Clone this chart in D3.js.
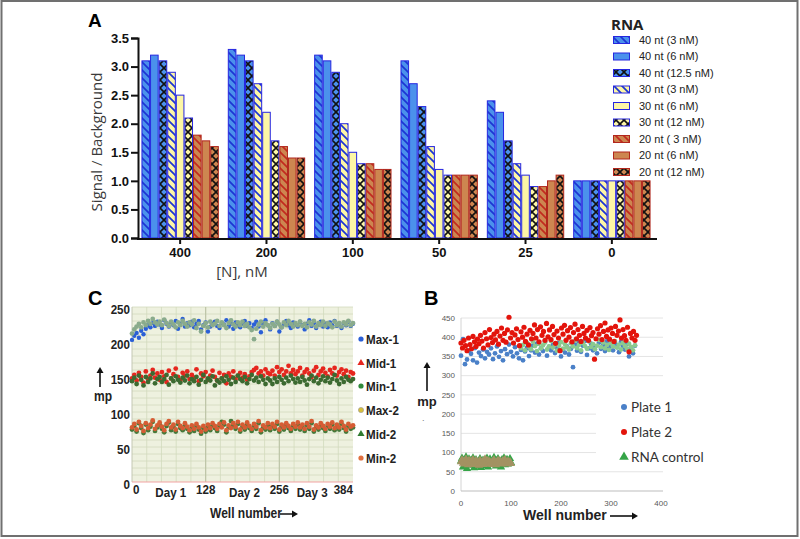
<!DOCTYPE html>
<html><head><meta charset="utf-8">
<script src="https://cdn.jsdelivr.net/npm/d3@7"></script>
<style>body{margin:0;background:#fff}svg{display:block}</style>
</head><body>
<svg id="c" width="800" height="539"></svg>
<script>
// ---------------- Panel A data ----------------
const categories = ["400","200","100","50","25","0"];
const seriesNames = ["40 nt (3 nM)","40 nt (6 nM)","40 nt (12.5 nM)","30 nt (3 nM)","30 nt (6 nM)","30 nt (12 nM)","20 nt ( 3 nM)","20 nt (6 nM)","20 nt (12 nM)"];
const v40nt3  = [3.1,3.3,3.2,3.1,2.4,1.0];
const v40nt6  = [3.2,3.2,3.1,2.7,2.2,1.0];
const v40nt12 = [3.1,3.1,2.9,2.3,1.7,1.0];
const v30nt3  = [2.9,2.7,2.0,1.6,1.3,1.0];
const v30nt6  = [2.5,2.2,1.5,1.2,1.1,1.0];
const v30nt12 = [2.1,1.7,1.3,1.1,0.9,1.0];
const v20nt3  = [1.8,1.6,1.3,1.1,0.9,1.0];
const v20nt6  = [1.7,1.4,1.2,1.1,1.0,1.0];
const v20nt12 = [1.6,1.4,1.2,1.1,1.1,1.0];
const seriesValues = [v40nt3,v40nt6,v40nt12,v30nt3,v30nt6,v30nt12,v20nt3,v20nt6,v20nt12];
const yTicksA = [0,0.5,1,1.5,2,2.5,3,3.5];

// ---------------- Panel C data (wells 0..384 step 4) ----------------
const cSeriesNames = ["Max-1","Mid-1","Min-1","Max-2","Mid-2","Min-2"];
const cXTicks = [0,128,256,384];
const cDayLabels = ["Day 1","Day 2","Day 3"];
const cDayWells = [64,192,320];
const cYTicks = [0,50,100,150,200,250];
const max1 = [203,209,213,206,216,211,219,224,221,227,223,229,
225,220,231,226,222,228,224,230,219,226,233,222,
227,224,229,221,226,230,218,224,228,215,222,226,
229,223,220,227,225,231,222,226,219,228,224,221,
226,230,223,227,220,225,229,222,214,226,231,224,
218,227,223,229,215,221,226,230,224,220,228,225,
222,229,224,218,226,231,223,227,220,225,229,222,
226,221,228,224,230,223,226,220,227,224,229,223,226];
const max2 = [212,218,222,226,221,228,224,230,226,233,228,225,
229,224,232,227,223,229,225,221,228,224,230,226,
222,228,225,231,220,226,215,223,227,221,229,224,
226,230,223,228,224,220,227,231,225,222,228,224,
229,223,226,221,217,204,219,225,229,222,227,224,
220,226,223,229,225,221,228,224,230,226,222,227,
224,229,223,226,221,228,225,230,222,227,224,229,
223,227,225,221,229,224,227,222,228,225,230,224,227];
const mid1 = [148,153,145,156,150,142,158,147,152,160,149,155,
146,157,151,143,159,148,154,162,150,145,156,152,
158,147,153,149,161,144,155,151,157,146,152,159,
150,145,156,148,153,141,155,150,158,147,152,156,
149,154,146,151,157,160,163,155,158,152,161,156,
154,159,152,164,157,161,153,158,166,155,160,154,
158,163,152,157,161,155,150,159,164,153,158,162,
156,151,160,155,163,152,157,161,154,159,150,157,155];
const min1 = [144,149,140,152,146,138,150,143,148,155,141,147,
150,143,147,153,139,148,144,151,146,142,149,145,
152,141,147,144,150,139,146,153,143,148,145,151,
138,145,142,148,144,151,146,140,149,143,152,147,
144,150,141,147,153,145,149,143,151,146,140,148,
145,140,148,143,150,146,141,149,144,152,147,142,
148,143,150,145,139,147,152,144,149,141,146,151,
144,149,142,147,153,145,140,148,143,150,146,144,147];
const mid2 = [75,80,72,84,77,70,82,74,79,86,73,78,
82,76,71,80,85,74,79,72,83,77,74,81,
76,71,78,73,80,75,69,77,72,79,74,81,
77,73,80,86,82,71,78,87,81,76,83,72,
79,75,82,77,73,80,76,84,71,78,75,81,
74,80,76,83,72,79,75,81,77,73,80,76,
82,75,79,73,81,76,84,72,78,75,81,77,
73,80,76,82,74,79,75,83,77,72,80,76,78];
const min2 = [78,83,75,86,80,73,84,77,82,88,76,81,
85,79,74,83,87,78,82,75,86,80,77,84,
79,74,81,76,83,78,72,80,75,82,77,84,
80,76,83,78,85,74,81,77,84,79,86,75,
82,78,85,80,76,83,79,87,74,81,78,84,
77,83,79,86,75,82,78,84,80,76,83,79,
85,78,82,76,84,79,87,75,81,78,84,80,
76,83,79,85,77,82,78,86,80,75,83,79,81];

// ---------------- Panel B data ----------------
const bLegend = ["Plate 1","Plate 2","RNA control"];
const bXTicks = [0,100,200,300,400];
const bYTicks = [0,50,100,150,200,250,300,350,400,450];
// Plate 2: wells 0..351 step 3
const plate2 = [385,372,392,378,365,398,381,370,402,388,376,395,
383,405,390,372,412,396,380,420,399,386,408,393,
415,382,403,424,392,410,387,419,452,398,412,385,
406,422,394,378,414,400,426,389,408,380,418,396,
410,432,398,420,388,427,405,415,392,436,401,419,
394,428,407,384,416,398,365,424,408,431,392,417,
400,425,388,412,434,396,420,405,389,428,410,398,
418,392,425,404,412,343,396,422,408,430,394,415,
437,402,419,395,424,410,389,428,405,416,445,398,
420,404,392,426,362,410,398,415,392,405];
// Plate 1: wells 0..348 step 4
const plate1 = [352,395,330,342,366,357,340,372,334,360,351,368,
345,362,355,371,343,358,376,349,364,340,369,356,
381,362,350,374,358,345,367,340,363,372,351,366,
378,360,383,355,371,364,388,352,375,366,380,359,
372,385,350,368,360,376,355,370,322,381,365,387,
362,378,390,354,371,383,366,375,358,386,370,379,
364,390,372,380,366,385,374,361,388,376,368,382,
350,372,358,378];
// light green points within the plate 1 band: wells 120..348 step 4
const plate1Green = [372,380,366,385,375,369,388,377,364,383,371,379,
386,368,376,390,373,381,365,378,387,370,382,374,
368,384,376,391,372,380,366,385,377,370,389,375,
382,369,378,393,374,386,371,380,367,384,376,390,
373,381,368,385,377,370,383,375,366,379];
// RNA control: wells 0..100 step 2
const rnaGreen = [78,85,62,80,74,88,58,76,83,67,79,72,86,60,75,81,70,64,77,84,61,73,80,66,78,71,85,62,76,83,69,74,80,87,72,65,79,84,70,76,62,81,73,86,68,75,82,70,77,84,74];
const rnaOlive = [76,81,72,78,70,83,75,68,80,73,77,70,82,74,69,79,72,76,67,80,74,71,78,69,83,76,80,73,78,71,75,69,77,81,72,68,76,80,73,78,70,75,79,72,82,74,70,78,73,76,71];

// ================= drawing =================
const svg = d3.select("#c");
const defs = svg.append("defs");
const BOLD = "'Liberation Sans', Arial, sans-serif";
const NX = 0.86; // horizontal condensing for narrow bold text in panel C

// outer frame
svg.append("rect").attr("x",1.5).attr("y",1).attr("width",796).attr("height",535)
  .attr("fill","none").attr("stroke","#707070").attr("stroke-width",2);

// patterns
const BLUE="#4b91ec", BLUE_E="#2626e0", BLUE_S="#1c35d4";
const YEL="#fdf6a6", ORG="#cd8650", RED_E="#b2261c", RED_S="#c22a1e";
function hatch(id,bg,col){
  const p=defs.append("pattern").attr("id",id).attr("patternUnits","userSpaceOnUse").attr("width",8).attr("height",8);
  p.append("rect").attr("width",8).attr("height",8).attr("fill",bg);
  p.append("path").attr("d","M-2,-2L10,10M-2,6L2,10M6,-2L10,2").attr("stroke",col).attr("stroke-width",1.7);
}
function cross(id,bg){
  const p=defs.append("pattern").attr("id",id).attr("patternUnits","userSpaceOnUse").attr("width",8).attr("height",8);
  p.append("rect").attr("width",8).attr("height",8).attr("fill",bg);
  p.append("path").attr("d","M-1,-1L9,9M9,-1L-1,9").attr("stroke","#111").attr("stroke-width",1.6);
}
hatch("p0",BLUE,BLUE_S); cross("p2",BLUE);
hatch("p3",YEL,BLUE_S); cross("p5",YEL);
hatch("p6",ORG,RED_S); cross("p8",ORG);
const seriesFill = ["url(#p0)",BLUE,"url(#p2)","url(#p3)",YEL,"url(#p5)","url(#p6)",ORG,"url(#p8)"];
const seriesStroke = [BLUE_E,BLUE_E,BLUE_E,BLUE_E,BLUE_E,BLUE_E,RED_E,RED_E,RED_E];

// ---------- Panel A ----------
const x0 = d3.scaleBand().domain(categories).range([138,654]).paddingInner(0.104).paddingOuter(0.04);
const x1 = d3.scaleBand().domain(seriesNames).range([0,x0.bandwidth()]);
const yA = d3.scaleLinear().domain([0,3.5]).range([238,38]);

const gA = svg.append("g");
seriesNames.forEach((s,i)=>{
  gA.selectAll(null).data(seriesValues[i].map((v,j)=>({c:categories[j],v}))).enter().append("rect")
    .attr("x",d=>x0(d.c)+x1(s)+0.5).attr("y",d=>yA(d.v))
    .attr("width",x1.bandwidth()-1).attr("height",d=>yA(0)-yA(d.v))
    .attr("fill",seriesFill[i]).attr("stroke",seriesStroke[i]).attr("stroke-width",1);
});
const yAx = svg.append("g").attr("transform","translate(138,0)")
  .call(d3.axisLeft(yA).tickValues(yTicksA).tickFormat(d3.format(".1f")).tickSize(7).tickPadding(2));
yAx.selectAll("path,line").attr("stroke","#111").attr("stroke-width",2);
yAx.selectAll("text").attr("font-family",BOLD).attr("font-weight","bold").attr("font-size",13).attr("fill","#111");
const xAx = svg.append("g").attr("transform","translate(0,239)")
  .call(d3.axisBottom(x0).tickSize(5).tickSizeOuter(0).tickPadding(4));
xAx.select(".domain").remove();
xAx.selectAll("line").attr("stroke","#111").attr("stroke-width",2);
xAx.selectAll("text").attr("font-family",BOLD).attr("font-weight","bold").attr("font-size",13).attr("fill","#111");
svg.append("line").attr("x1",137).attr("x2",657).attr("y1",239).attr("y2",239).attr("stroke","#111").attr("stroke-width",2);

svg.append("text").attr("x",88).attr("y",27).text("A")
  .attr("font-family",BOLD).attr("font-weight","bold").attr("font-size",19);
svg.append("text").attr("transform","translate(102,142) rotate(-90)").attr("text-anchor","middle")
  .attr("font-family","'Open Sans', sans-serif").attr("font-size",15).attr("fill","#3a3a3a").text("Signal / Background");
svg.append("text").attr("x",242).attr("y",277).attr("text-anchor","middle")
  .attr("font-family","'Open Sans', sans-serif").attr("font-size",15).attr("fill","#3a3a3a").text("[N], nM");

// legend A
svg.append("text").attr("x",611).attr("y",30).text("RNA")
  .attr("font-family","'Open Sans', sans-serif").attr("font-weight","bold").attr("font-size",15).attr("fill","#222");
const legA = svg.append("g");
seriesNames.forEach((s,i)=>{
  const yy = 40 + i*16.5;
  legA.append("rect").attr("x",613.5).attr("y",yy-3.5).attr("width",16).attr("height",7)
    .attr("fill",seriesFill[i]).attr("stroke",seriesStroke[i]).attr("stroke-width",1);
  legA.append("text").attr("x",639).attr("y",yy).attr("dy","0.35em").text(s)
    .attr("font-family",BOLD).attr("font-size",11).attr("fill","#222");
});

// ---------- Panel C ----------
const xC = d3.scaleLinear().domain([0,384]).range([132,353]);
const yC = d3.scaleLinear().domain([0,250]).range([482,307]);
const gC = svg.append("g");
gC.append("rect").attr("x",xC(0)).attr("y",yC(250)).attr("width",xC(384)-xC(0)).attr("height",yC(0)-yC(250)).attr("fill","#eef1df");
gC.selectAll(null).data(d3.range(10,251,10)).enter().append("line")
  .attr("x1",xC(0)).attr("x2",xC(384)).attr("y1",d=>yC(d)).attr("y2",d=>yC(d)).attr("stroke","#d2dabd").attr("stroke-width",0.8);
gC.selectAll(null).data(d3.range(1,15).map(k=>k*25.6)).enter().append("line")
  .attr("y1",yC(0)).attr("y2",yC(250)).attr("x1",d=>xC(d)).attr("x2",d=>xC(d))
  .attr("stroke",d=>(Math.abs(d-128)<1||Math.abs(d-256)<1)?"#bcc4a6":"#d2dabd").attr("stroke-width",d=>(Math.abs(d-128)<1||Math.abs(d-256)<1)?1.2:0.8);
gC.append("line").attr("x1",xC(0)).attr("x2",xC(0)).attr("y1",yC(0)).attr("y2",yC(250)).attr("stroke","#c4c8b4");
gC.append("line").attr("x1",xC(0)).attr("x2",xC(384)).attr("y1",yC(0)).attr("y2",yC(0)).attr("stroke","#f2a3a3").attr("stroke-width",1.2);

const wellsC = d3.range(0,385,4);
const cColors = {max1:"#2a5fd6", max2:"#8aab8c", mid1:"#e6261e", min1:"#3c6a31", mid2:"#46793a", min2:"#d65c34"};
function dotsC(arr,col,r){
  gC.selectAll(null).data(arr).enter().append("circle")
    .attr("cx",(d,i)=>xC(wellsC[i])).attr("cy",d=>yC(d)).attr("r",r).attr("fill",col);
}
dotsC(max1,cColors.max1,2.2); dotsC(max2,cColors.max2,2.4);
dotsC(mid1,cColors.mid1,2.4); dotsC(min1,cColors.min1,2.4);
dotsC(mid2,cColors.mid2,2.4); dotsC(min2,cColors.min2,2.4);

function narrow(sel,size){
  return sel.attr("font-family",BOLD).attr("font-weight","bold").attr("font-size",size).attr("fill","#222");
}
narrow(gC.selectAll(null).data(cYTicks).enter().append("text")
  .attr("transform",d=>`translate(130,${yC(d)+2}) scale(${NX},1)`).attr("dy","0.35em").attr("text-anchor","end").text(d=>d),13.5);
narrow(gC.selectAll(null).data(cXTicks).enter().append("text")
  .attr("transform",d=>`translate(${xC(d)+(d===0?1:0)},494) scale(${NX},1)`)
  .attr("text-anchor",(d,i)=>i===0?"start":(i===3?"end":"middle")).text(d=>d),13.5);
narrow(gC.selectAll(null).data(cDayLabels).enter().append("text")
  .attr("transform",(d,i)=>`translate(${xC(cDayWells[i])+(i===2?-4:2)},497) scale(${NX},1)`).attr("text-anchor","middle").text(d=>d),13.5);
svg.append("text").attr("x",88).attr("y",305).text("C")
  .attr("font-family",BOLD).attr("font-weight","bold").attr("font-size",20);
narrow(svg.append("text").attr("transform",`translate(210,518) scale(${NX},1)`).text("Well number"),14);
function arrowH(x1,x2,y,w){
  svg.append("line").attr("x1",x1).attr("x2",x2-3).attr("y1",y).attr("y2",y).attr("stroke","#111").attr("stroke-width",w);
  svg.append("path").attr("d",`M${x2},${y}L${x2-6},${y-3.5}L${x2-6},${y+3.5}Z`).attr("fill","#111");
}
function arrowV(x,y1,y2,w){
  svg.append("line").attr("x1",x).attr("x2",x).attr("y1",y1).attr("y2",y2+3).attr("stroke","#111").attr("stroke-width",w);
  svg.append("path").attr("d",`M${x},${y2}L${x-3.5},${y2+6}L${x+3.5},${y2+6}Z`).attr("fill","#111");
}
arrowH(280,298,514,1.5);
arrowV(100,387,367,1.6);
narrow(svg.append("text").attr("transform",`translate(103,401) scale(${NX},1)`).attr("text-anchor","middle").text("mp"),14);

// legend C
const cLegColors=[cColors.max1,"#e6261e","#2f8a3a","#d8c03a","#2f7a2f","#e07040"];
const cLegShape=["c","t","c","c","t","c"];
const cLegY=[339,363,386,410,434,458];
cSeriesNames.forEach((s,i)=>{
  if(cLegShape[i]==="c") svg.append("circle").attr("cx",361).attr("cy",cLegY[i]).attr("r",2.6).attr("fill",cLegColors[i]).attr("stroke",i===3?"#999":"none").attr("stroke-width",0.6);
  else svg.append("path").attr("transform",`translate(361,${cLegY[i]})`).attr("d",d3.symbol(d3.symbolTriangle,22)()).attr("fill",cLegColors[i]);
  narrow(svg.append("text").attr("transform",`translate(366,${cLegY[i]}) scale(${NX},1)`).attr("dy","0.35em").text(s),13.5);
});

// ---------- Panel B ----------
const xB = d3.scaleLinear().domain([0,400]).range([461,661]);
const yB = d3.scaleLinear().domain([0,450]).range([491,318]);
const gB = svg.append("g");
gB.selectAll(null).data(bYTicks.slice(1)).enter().append("line")
  .attr("x1",xB(0)).attr("x2",663).attr("y1",d=>yB(d)).attr("y2",d=>yB(d)).attr("stroke","#e4e4e4").attr("stroke-width",1);
gB.append("line").attr("x1",xB(0)).attr("x2",xB(0)).attr("y1",yB(0)).attr("y2",yB(450)).attr("stroke","#d4d4d4");
gB.append("line").attr("x1",xB(0)).attr("x2",663).attr("y1",yB(0)).attr("y2",yB(0)).attr("stroke","#bdbdbd");
gB.selectAll(null).data(bYTicks).enter().append("text")
  .attr("x",455).attr("y",d=>yB(d)).attr("dy","0.35em").attr("text-anchor","end").text(d=>d)
  .attr("font-family",BOLD).attr("font-size",8).attr("fill","#595959");
gB.selectAll(null).data(bXTicks).enter().append("text")
  .attr("x",d=>xB(d)).attr("y",503).attr("dy","0.35em").attr("text-anchor","middle").text(d=>d)
  .attr("font-family",BOLD).attr("font-size",8).attr("fill","#595959");

// legend background (hides gridlines)
gB.append("rect").attr("x",596).attr("y",yB(262)).attr("width",75).attr("height",yB(74)-yB(262)).attr("fill","#fff");

const wellsP1 = d3.range(0,349,4), wellsP2 = d3.range(0,352,3), wellsG = d3.range(120,349,4), wellsR = d3.range(0,101,2);
const P1C="#4a80c8", P2C="#e3140c", GC="#8cc98e", RG="#35a447", RO="#a39262";
gB.selectAll(null).data(plate1).enter().append("circle").attr("cx",(d,i)=>xB(wellsP1[i])).attr("cy",d=>yB(d)).attr("r",2.4).attr("fill",P1C);
gB.selectAll(null).data(plate1Green).enter().append("circle").attr("cx",(d,i)=>xB(wellsG[i])).attr("cy",d=>yB(d)).attr("r",2.4).attr("fill",GC);
gB.selectAll(null).data(plate2).enter().append("circle").attr("cx",(d,i)=>xB(wellsP2[i])).attr("cy",d=>yB(d)).attr("r",2.6).attr("fill",P2C);
const tri = d3.symbol(d3.symbolTriangle,30)();
gB.selectAll(null).data(rnaGreen).enter().append("path").attr("transform",(d,i)=>`translate(${xB(wellsR[i])},${yB(d)})`).attr("d",tri).attr("fill",RG);
gB.selectAll(null).data(rnaOlive).enter().append("path").attr("transform",(d,i)=>`translate(${xB(wellsR[i])},${yB(d)})`).attr("d",tri).attr("fill",RO);

// legend B
const bLegColors=[P1C,P2C,RG];
const bLegY=[407,432,457];
bLegend.forEach((s,i)=>{
  if(i<2) svg.append("circle").attr("cx",624).attr("cy",bLegY[i]).attr("r",3).attr("fill",bLegColors[i]);
  else svg.append("path").attr("transform",`translate(624,${bLegY[i]})`).attr("d",d3.symbol(d3.symbolTriangle,40)()).attr("fill",bLegColors[i]);
  svg.append("text").attr("x",631).attr("y",bLegY[i]).attr("dy","0.35em").text(s)
    .attr("font-family","Lato, 'Open Sans', sans-serif").attr("font-size",13.5).attr("fill","#333");
});
svg.append("text").attr("x",424).attr("y",305).text("B")
  .attr("font-family",BOLD).attr("font-weight","bold").attr("font-size",20);
arrowV(427,391,362,1.6);
svg.append("text").attr("x",427).attr("y",406).attr("text-anchor","middle").text("mp")
  .attr("font-family",BOLD).attr("font-weight","bold").attr("font-size",13).attr("fill","#222");
svg.append("text").attr("x",422).attr("y",421).text(".")
  .attr("font-family",BOLD).attr("font-size",9).attr("fill","#777");
svg.append("text").attr("x",523).attr("y",520).text("Well number")
  .attr("font-family",BOLD).attr("font-weight","bold").attr("font-size",14).attr("fill","#222");
arrowH(610,638,516,1.6);
</script>
</body></html>
